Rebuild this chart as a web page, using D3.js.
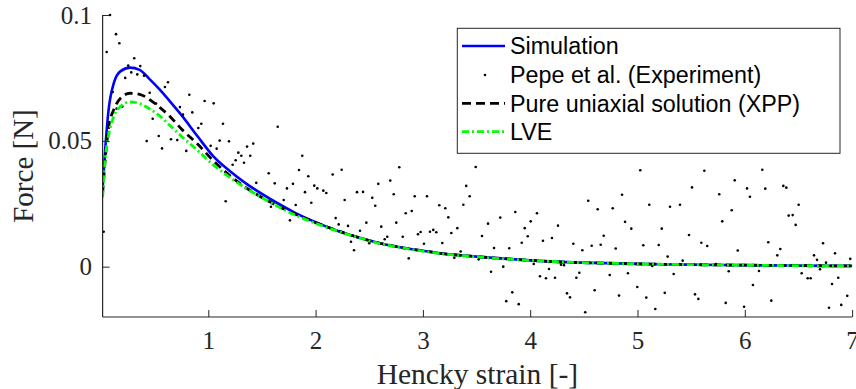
<!DOCTYPE html>
<html>
<head>
<meta charset="utf-8">
<script src="https://cdn.jsdelivr.net/npm/d3@7"></script>
<style>
  body { margin: 0; background: #fff; }
  svg { display: block; }
</style>
</head>
<body>
<div id="vis"></div>
<script>
// model curves
const strain = [0.015, 0.04, 0.07, 0.12, 0.18, 0.27, 0.36, 0.46, 0.55, 0.65, 0.75, 0.9, 1.05, 1.2, 1.35, 1.5, 1.65, 1.8, 2.0,
  2.15, 2.3, 2.45, 2.6, 2.75, 2.9, 3.05, 3.2, 3.5, 3.75, 4.0, 4.4, 4.7, 5.0, 5.5, 6.0, 6.5, 7.0]
const simulation = [0.031, 0.047, 0.062, 0.073, 0.0776, 0.0791, 0.0782, 0.0742, 0.0702, 0.0653, 0.0602, 0.0518, 0.0437, 0.0380, 0.0331, 0.0289, 0.0251, 0.0216, 0.0177,
  0.0151, 0.0129, 0.0110, 0.0093, 0.0080, 0.0069, 0.0060, 0.0051, 0.0040, 0.0032, 0.0025, 0.0017, 0.0014, 0.0011, 0.0008, 0.0006, 0.0004, 0.0003]
const xpp = [0.029, 0.043, 0.055, 0.0625, 0.0668, 0.0689, 0.0685, 0.0662, 0.0632, 0.0594, 0.0547, 0.0487, 0.0420, 0.0362, 0.0314, 0.0275, 0.0241, 0.0211, 0.0175,
  0.0151, 0.0129, 0.0110, 0.0093, 0.0080, 0.0069, 0.0060, 0.0051, 0.0040, 0.0032, 0.0025, 0.0017, 0.0014, 0.0011, 0.0008, 0.0006, 0.0004, 0.0003]
const lve = [0.0275, 0.043, 0.052, 0.0598, 0.0636, 0.0655, 0.0648, 0.0625, 0.0598, 0.0558, 0.0518, 0.0462, 0.0403, 0.0355, 0.0312, 0.0274, 0.0239, 0.0207, 0.0172,
  0.0149, 0.0128, 0.0109, 0.0092, 0.0079, 0.0068, 0.0059, 0.0050, 0.0039, 0.0031, 0.0025, 0.0017, 0.0014, 0.0011, 0.0008, 0.0006, 0.0004, 0.0003]

// experiment (Pepe et al.)
const expStrain = [0.025, 0.053, 0.084, 0.109, 0.140, 0.146, 0.171, 0.199, 0.226, 0.254, 0.282, 0.310, 0.338, 0.366, 0.401, 0.426, 0.454, 0.482, 0.513, 0.538,
  0.569, 0.596, 0.624, 0.652, 0.711, 0.736, 0.764, 0.795, 0.823, 0.851, 0.907, 0.935, 0.966, 1.022, 1.050, 1.078, 1.106, 1.137, 1.162, 1.193,
  1.227, 1.255, 1.280, 1.308, 1.333, 1.361, 1.391, 1.419, 1.447, 1.563, 1.584, 1.619, 1.647, 1.703, 1.733, 1.761, 1.789, 1.815, 1.845,
  1.876, 1.901, 1.932, 1.960, 1.988, 2.016, 2.072, 2.100, 2.159, 2.187, 2.215, 2.243, 2.271, 2.302, 2.330, 2.358, 2.386, 2.414, 2.442, 2.473,
  2.500, 2.528, 2.556, 2.584, 2.612, 2.644, 2.668, 2.696, 2.728, 2.752, 2.780, 2.812, 2.840, 2.868, 2.896, 2.924, 2.954, 2.979, 3.010, 3.038,
  3.066, 3.097, 3.125, 3.153, 3.181, 3.209, 3.237, 3.265, 3.293, 3.321, 3.352, 3.377, 3.404, 3.436, 3.492, 3.520,
  3.551, 3.607, 3.663, 3.635, 3.721, 3.749, 3.805, 3.777, 3.833, 3.893, 3.861, 3.921, 3.949, 3.977, 4.005, 4.063, 4.033, 4.091, 4.119, 4.147,
  4.175, 4.203, 4.231, 4.259, 4.287, 4.315, 4.343, 4.371, 4.402, 4.430, 4.458, 4.486, 4.513, 4.541, 4.573, 4.601, 4.629, 4.657, 4.685, 4.741,
  4.769, 4.797, 4.828, 4.856, 4.884, 4.911, 4.942, 4.998, 5.026, 5.054, 5.082, 5.110, 5.138, 5.166, 5.198, 5.226, 5.254, 5.281, 5.303,
  5.337, 5.396, 5.421, 5.480, 5.508, 5.536, 5.567, 5.595, 5.623, 5.650, 5.734, 5.762, 5.790, 5.822, 5.850, 5.878, 5.906, 5.934, 5.993,
  6.021, 6.048, 6.076, 6.132, 6.163, 6.191, 6.219, 6.247, 6.303, 6.331, 6.359, 6.387, 6.409, 6.446, 6.474, 6.502, 6.530, 6.586, 6.614,
  6.645, 6.673, 6.701, 6.729, 6.757, 6.785, 6.813, 6.841, 6.871, 6.899, 6.955, 6.983]
const expForce = [0.0139, 0.0853, 0.1000, 0.0694, 0.0924, 0.0628, 0.0888, 0.0636, 0.0750, 0.0799, 0.0772, 0.0828, 0.0764, 0.0797, 0.0759, 0.0499, 0.0691, 0.0588, 0.0648, 0.0519,
  0.0470, 0.0714, 0.0733, 0.0506, 0.0503, 0.0634, 0.0604, 0.0460, 0.0683, 0.0613, 0.0551, 0.0568, 0.0658, 0.0480, 0.0649, 0.0469, 0.0501, 0.0568, 0.0260, 0.0498,
  0.0405, 0.0423, 0.0453, 0.0441, 0.0413, 0.0477, 0.0441, 0.0489, 0.0333, 0.0371, 0.0238, 0.0331, 0.0556, 0.0265, 0.0311, 0.0184, 0.0329, 0.0245, 0.0384,
  0.0441, 0.0296, 0.0359, 0.0254, 0.0322, 0.0311, 0.0302, 0.0293, 0.0366, 0.0193, 0.0168, 0.0385, 0.0265, 0.0162, 0.0099, 0.0065, 0.0296, 0.0143, 0.0297, 0.0175,
  0.0093, 0.0274, 0.0242, 0.0329, 0.0159, 0.0109, 0.0119, 0.0342, 0.0288, 0.0175, 0.0395, 0.0119, 0.0212, 0.0033, 0.0221, 0.0280, 0.0129, 0.0138, 0.0091, 0.0280,
  0.0139, 0.0146, 0.0137, 0.0244, 0.0094, 0.0232, 0.0196, 0.0134, 0.0035, 0.0153, 0.0060, 0.0246, 0.0321, 0.0280, 0.0396, 0.0029,
  0.0122, 0.0171, 0.0074, -0.0020, 0.0195, 0.0000, 0.0073, -0.0137, -0.0102, -0.0149, 0.0217, 0.0095, 0.0153, 0.0121, 0.0180, 0.0212, 0.0011, -0.0038, 0.0103, -0.0046,
  -0.0009, 0.0114, -0.0044, 0.0163, 0.0008, 0.0006, -0.0106, -0.0122, 0.0091, -0.0044, -0.0024, 0.0065, -0.0181, 0.0262, 0.0083, -0.0094, 0.0228, 0.0087, 0.0123, -0.0033,
  0.0232, 0.0072, -0.0115, 0.0286, 0.0178, -0.0026, 0.0151, -0.0081, 0.0383, 0.0085, -0.0123, 0.0246, 0.0003, -0.0168, 0.0086, 0.0151, -0.0104, 0.0040, 0.0238,
  -0.0029, 0.0246, 0.0024, 0.0126, 0.0315, -0.0110, -0.0128, 0.0095, 0.0381, 0.0082, 0.0010, 0.0288, 0.0180, -0.0144, -0.0018, 0.0224, 0.0343, 0.0064, -0.0159,
  0.0311, 0.0278, -0.0073, -0.0017, 0.0385, 0.0310, 0.0097, -0.0135, 0.0045, 0.0070, 0.0321, 0.0314, 0.0203, 0.0205, 0.0166, 0.0246, -0.0026, -0.0046, -0.0046,
  0.0045, 0.0027, -0.0010, 0.0093, 0.0016, -0.0163, -0.0069, 0.0053, -0.0044, -0.0152, -0.0116, 0.0031]

const xTicks = [1, 2, 3, 4, 5, 6, 7]
const yTicks = [0, 0.05, 0.1]
const legendLabels = ['Simulation', 'Pepe et al. (Experiment)', 'Pure uniaxial solution (XPP)', 'LVE']

const axisColor = '#262626'
const serif = '"Liberation Serif", "Times New Roman", serif'
const sans = '"Liberation Sans", Arial, sans-serif'

let svg = d3.select('#vis')
  .append('svg')
  .attr('width', 856)
  .attr('height', 389)

svg.append('rect').attr('width', 856).attr('height', 389).attr('fill', '#fff')

let xScale = d3.scaleLinear().domain([0.015, 7]).range([102.6, 852.1])
let yScale = d3.scaleLinear().domain([-0.02, 0.1]).range([317, 15])

let line = d3.line()
  .x(d => xScale(d[0]))
  .y(d => yScale(d[1]))
  .curve(d3.curveMonotoneX)

svg.append('defs').append('clipPath').attr('id', 'plot')
  .append('rect')
  .attr('x', 102.6).attr('y', 10)
  .attr('width', 852.1 - 102.6 + 2).attr('height', 317 - 10)

let plot = svg.append('g').attr('clip-path', 'url(#plot)')

// simulation
plot.append('path')
  .datum(strain.map((s, i) => [s, simulation[i]]))
  .attr('d', line)
  .attr('fill', 'none')
  .attr('stroke', '#0000ff')
  .attr('stroke-width', 2.6)

// experiment dots
plot.selectAll('.exp-dot')
  .data(expStrain.map((s, i) => [s, expForce[i]]))
  .enter()
  .append('circle')
    .attr('class', 'exp-dot')
    .attr('cx', d => xScale(d[0]))
    .attr('cy', d => yScale(d[1]))
    .attr('r', 1.3)
    .attr('fill', '#000')

// pure uniaxial XPP
plot.append('path')
  .datum(strain.map((s, i) => [s, xpp[i]]))
  .attr('d', line)
  .attr('fill', 'none')
  .attr('stroke', '#000')
  .attr('stroke-width', 2.8)
  .attr('stroke-dasharray', '8,5')

// LVE
plot.append('path')
  .datum(strain.map((s, i) => [s, lve[i]]))
  .attr('d', line)
  .attr('fill', 'none')
  .attr('stroke', '#00ff00')
  .attr('stroke-width', 2.8)
  .attr('stroke-dasharray', '7,3,2,3')

// axes, ticks pointing inside like matlab
let xAxis = d3.axisBottom(xScale).tickValues(xTicks).tickSize(-7).tickFormat(d3.format('d'))
let xAxisGroup = svg.append('g')
  .attr('transform', 'translate(0,317)')
  .call(xAxis)
xAxisGroup.select('.domain').attr('stroke', axisColor).attr('stroke-width', 1.2)
  .attr('d', `M102.6,0H852.1`)
xAxisGroup.selectAll('.tick line').attr('stroke', axisColor)
xAxisGroup.selectAll('.tick text')
  .attr('y', 32).attr('dy', 0)
  .attr('fill', axisColor)
  .style('font-family', serif).style('font-size', '25px')

let yAxis = d3.axisLeft(yScale).tickValues(yTicks).tickSize(-7).tickFormat(d => d === 0 ? '0' : String(d))
let yAxisGroup = svg.append('g')
  .attr('transform', 'translate(102.6,0)')
  .call(yAxis)
yAxisGroup.select('.domain').attr('stroke', axisColor).attr('stroke-width', 1.2)
  .attr('d', `M0,15V317`)
yAxisGroup.selectAll('.tick line').attr('stroke', axisColor)
yAxisGroup.selectAll('.tick text')
  .attr('x', -10.5)
  .attr('fill', axisColor)
  .style('font-family', serif).style('font-size', '25px')

// axis labels
svg.append('text')
  .attr('x', 477.4).attr('y', 384)
  .attr('text-anchor', 'middle')
  .attr('fill', axisColor)
  .style('font-family', serif).style('font-size', '29.5px')
  .text('Hencky strain [-]')

svg.append('text')
  .attr('transform', 'translate(33,166) rotate(-90)')
  .attr('text-anchor', 'middle')
  .attr('fill', axisColor)
  .style('font-family', serif).style('font-size', '29px')
  .text('Force [N]')

// legend
let legend = svg.append('g')
legend.append('rect')
  .attr('x', 457.3).attr('y', 28.3)
  .attr('width', 382.7).attr('height', 125)
  .attr('fill', '#fff')
  .attr('stroke', axisColor)
  .attr('stroke-width', 1)

const rowY = [46, 75, 103.3, 131.7]
const legendStyles = [
  {stroke: '#0000ff', dash: null, w: 2.6},
  null,
  {stroke: '#000', dash: '9,5', w: 2.8},
  {stroke: '#00ff00', dash: '7,3,2,3', w: 2.8}
]

legendLabels.forEach((label, i) => {
  let st = legendStyles[i]
  if (st) {
    legend.append('line')
      .attr('x1', 462).attr('x2', 505)
      .attr('y1', rowY[i]).attr('y2', rowY[i])
      .attr('stroke', st.stroke)
      .attr('stroke-width', st.w)
      .attr('stroke-dasharray', st.dash)
  } else {
    legend.append('circle')
      .attr('cx', 485).attr('cy', rowY[i])
      .attr('r', 1.3).attr('fill', '#000')
  }
  legend.append('text')
    .attr('x', 510).attr('y', rowY[i])
    .attr('dy', '0.36em')
    .attr('fill', '#000')
    .style('font-family', sans).style('font-size', '23.3px')
    .text(label)
})
</script>
